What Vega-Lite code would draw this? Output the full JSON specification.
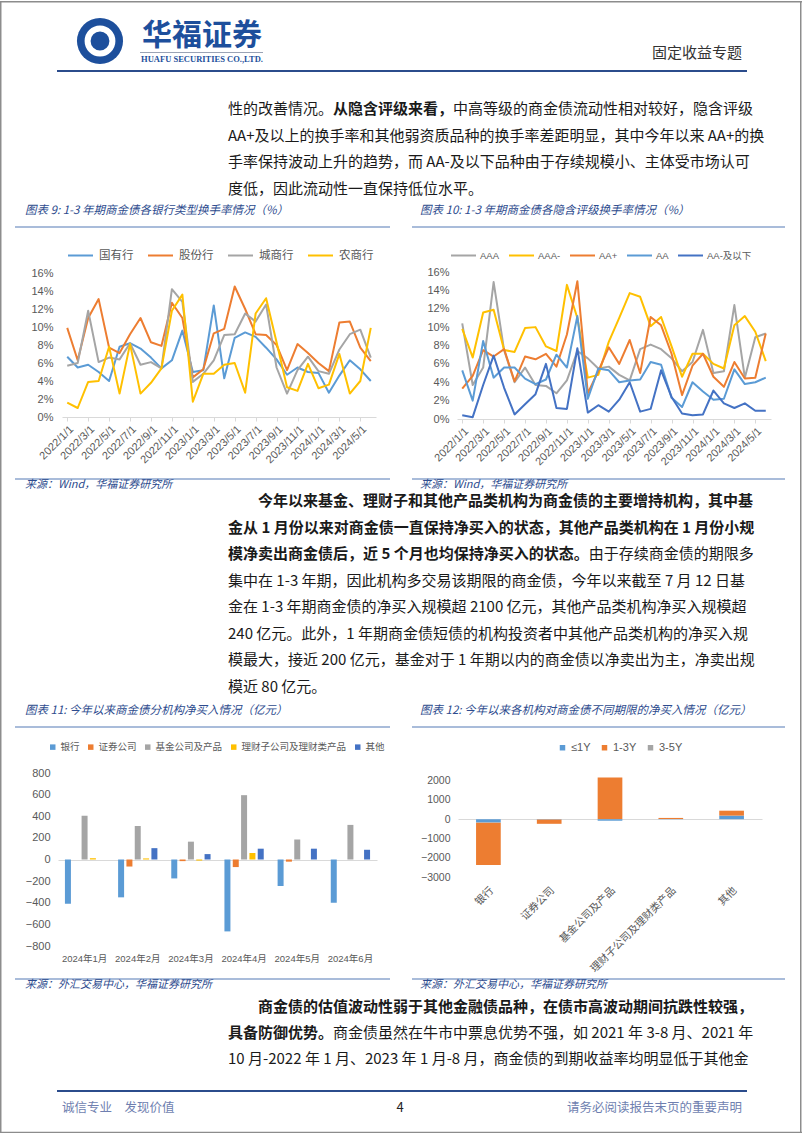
{
"$schema": "https://vega.github.io/schema/vega-lite/v6.json",
"background": "white",
"padding": 0,
"spacing": 0,
"bounds": "flush",
"config": {
 "view": {"stroke": null},
 "font": "Noto Sans CJK SC",
 "axis": {"labelFont": "Liberation Sans, Noto Sans CJK SC", "labelColor": "#595959", "labelFontSize": 11},
 "legend": {"labelFont": "Noto Sans CJK SC", "labelColor": "#595959", "labelFontSize": 11, "padding": 0}
},
"resolve": {"scale": {"x": "independent", "y": "independent", "color": "independent"}},
"vconcat": [
{
 "width": 802, "height": 95,
 "layer": [
  {"data": {"values": [{}]}, "mark": {"type": "point", "shape": "M-0.0013,-1H0.0013V1H-0.0013Z", "filled": true, "size": 1283689, "color": "#8C8C8C", "opacity": 1}, "encoding": {"x": {"value": 0.75}, "y": {"value": 566.5}}},
  {"data": {"values": [{}]}, "mark": {"type": "point", "shape": "M-0.0013,-1H0.0013V1H-0.0013Z", "filled": true, "size": 1283689, "color": "#8C8C8C", "opacity": 1}, "encoding": {"x": {"value": 800.75}, "y": {"value": 566.5}}},
  {"data": {"values": [{}]}, "mark": {"type": "point", "shape": "M-1,-0.0019H1V0.0019H-1Z", "filled": true, "size": 643204, "color": "#8C8C8C", "opacity": 1}, "encoding": {"x": {"value": 401}, "y": {"value": 0.75}}},
  {"data": {"values": [{}]}, "mark": {"type": "point", "shape": "M-1,-0.0019H1V0.0019H-1Z", "filled": true, "size": 643204, "color": "#8C8C8C", "opacity": 1}, "encoding": {"x": {"value": 401}, "y": {"value": 1131.5}}},
  {"data": {"values": [{}]}, "mark": {"type": "point", "shape": "circle", "filled": true, "size": 2124, "color": "#1D4F9C", "opacity": 1}, "encoding": {"x": {"value": 100}, "y": {"value": 40}}},
  {"data": {"values": [{}]}, "mark": {"type": "point", "shape": "circle", "filled": false, "size": 616, "stroke": "white", "strokeWidth": 6, "opacity": 1}, "encoding": {"x": {"value": 100}, "y": {"value": 40}}},
  {"data": {"values": [{}]}, "mark": {"type": "point", "shape": "diamond", "filled": true, "size": 170, "color": "#1D4F9C", "opacity": 1}, "encoding": {"x": {"value": 100}, "y": {"value": 41}}},
  {"data": {"values": [{}]}, "mark": {"type": "text", "align": "center", "baseline": "middle", "fontSize": 30, "fontWeight": "bold", "color": "#1D4F9C"}, "encoding": {"x": {"value": 202}, "y": {"value": 35}, "text": {"value": "华福证券"}}},
  {"data": {"values": [{}]}, "mark": {"type": "point", "shape": "M-1,-0.008H1V0.008H-1Z", "filled": true, "size": 15129, "color": "#9AA3B5", "opacity": 1}, "encoding": {"x": {"value": 201.5}, "y": {"value": 51.5}}},
  {"data": {"values": [{}]}, "mark": {"type": "text", "align": "center", "baseline": "middle", "fontSize": 8.5, "fontWeight": "bold", "font": "Liberation Serif", "color": "#1D4F9C"}, "encoding": {"x": {"value": 202}, "y": {"value": 58}, "text": {"value": "HUAFU SECURITIES CO.,LTD."}}},
  {"data": {"values": [{}]}, "mark": {"type": "text", "align": "right", "baseline": "middle", "fontSize": 15, "color": "#333333"}, "encoding": {"x": {"value": 742}, "y": {"value": 52}, "text": {"value": "固定收益专题"}}},
  {"data": {"values": [{}]}, "mark": {"type": "point", "shape": "M-1,-0.0029H1V0.0029H-1Z", "filled": true, "size": 476100, "color": "#2B4C8C", "opacity": 1}, "encoding": {"x": {"value": 402}, "y": {"value": 70}}}
 ]
},
{
 "width": 802, "height": 106,
 "data": {"values": [
  {"line": 1, "col": 0, "em": false, "t": "性的改善情况。"},
  {"line": 1, "col": 7, "em": true, "t": "从隐含评级来看，"},
  {"line": 1, "col": 15, "em": false, "t": "中高等级的商金债流动性相对较好，隐含评级"},
  {"line": 2, "col": 0, "em": false, "t": "AA+及以上的换手率和其他弱资质品种的换手率差距明显，其中今年以来 AA+的换"},
  {"line": 3, "col": 0, "em": false, "t": "手率保持波动上升的趋势，而 AA-及以下品种由于存续规模小、主体受市场认可"},
  {"line": 4, "col": 0, "em": false, "t": "度低，因此流动性一直保持低位水平。"}
 ]},
 "encoding": {
  "x": {"field": "col", "type": "quantitative", "scale": {"domain": [0, 34.4667], "range": [228, 745], "nice": false, "zero": false}, "axis": null},
  "y": {"field": "line", "type": "ordinal", "scale": {"type": "point", "padding": 0.5}, "axis": null},
  "text": {"field": "t"}
 },
 "layer": [
  {"transform": [{"filter": "!datum.em"}], "mark": {"type": "text", "align": "left", "baseline": "middle", "fontSize": 15, "color": "#1a1a1a"}},
  {"transform": [{"filter": "datum.em"}], "mark": {"type": "text", "align": "left", "baseline": "middle", "fontSize": 15, "fontWeight": "bold", "color": "#1a1a1a"}}
 ]
},
{
 "width": 802, "height": 286,
 "resolve": {"scale": {"x": "independent", "y": "independent", "color": "independent"}, "axis": {"x": "independent", "y": "independent"}, "legend": {"color": "independent"}},
 "layer": [
  {"data": {"values": [{}]}, "mark": {"type": "text", "align": "left", "baseline": "middle", "fontSize": 11.5, "fontStyle": "italic", "color": "#2D4B8E"}, "encoding": {"x": {"value": 25}, "y": {"value": 9}, "text": {"value": "图表 9:  1-3 年期商金债各银行类型换手率情况（%）"}}},
  {"data": {"values": [{}]}, "mark": {"type": "text", "align": "left", "baseline": "middle", "fontSize": 11.5, "fontStyle": "italic", "color": "#2D4B8E"}, "encoding": {"x": {"value": 420}, "y": {"value": 9}, "text": {"value": "图表 10:  1-3 年期商金债各隐含评级换手率情况（%）"}}},
  {"data": {"values": [{}]}, "mark": {"type": "point", "shape": "M-1,-0.0053H1V0.0053H-1Z", "filled": true, "size": 140625, "color": "#A9BCDA", "opacity": 1}, "encoding": {"x": {"value": 202.5}, "y": {"value": 25}}},
  {"data": {"values": [{}]}, "mark": {"type": "point", "shape": "M-1,-0.0054H1V0.0054H-1Z", "filled": true, "size": 139129, "color": "#A9BCDA", "opacity": 1}, "encoding": {"x": {"value": 598.5}, "y": {"value": 25}}},
  {"data": {"values": [{}]}, "mark": {"type": "point", "shape": "M-1,-0.0053H1V0.0053H-1Z", "filled": true, "size": 140625, "color": "#A9BCDA", "opacity": 1}, "encoding": {"x": {"value": 202.5}, "y": {"value": 277}}},
  {"data": {"values": [{}]}, "mark": {"type": "point", "shape": "M-1,-0.0054H1V0.0054H-1Z", "filled": true, "size": 139129, "color": "#A9BCDA", "opacity": 1}, "encoding": {"x": {"value": 598.5}, "y": {"value": 277}}},
  {"data": {"values": [{}]}, "mark": {"type": "text", "align": "left", "baseline": "middle", "fontSize": 11, "fontStyle": "italic", "color": "#2D4B8E"}, "encoding": {"x": {"value": 25}, "y": {"value": 283}, "text": {"value": "来源：Wind，华福证券研究所"}}},
  {"data": {"values": [{}]}, "mark": {"type": "text", "align": "left", "baseline": "middle", "fontSize": 11, "fontStyle": "italic", "color": "#2D4B8E"}, "encoding": {"x": {"value": 420}, "y": {"value": 283}, "text": {"value": "来源：Wind，华福证券研究所"}}},
  {
   "data": {"values": [
    {"d":"2022/1/1","s":"国有行","v":6.7},{"d":"2022/2/1","s":"国有行","v":5.5},{"d":"2022/3/1","s":"国有行","v":5.8},{"d":"2022/4/1","s":"国有行","v":5.0},{"d":"2022/5/1","s":"国有行","v":4.0},{"d":"2022/6/1","s":"国有行","v":7.8},{"d":"2022/7/1","s":"国有行","v":8.2},{"d":"2022/8/1","s":"国有行","v":7.6},{"d":"2022/9/1","s":"国有行","v":6.6},{"d":"2022/10/1","s":"国有行","v":5.4},{"d":"2022/11/1","s":"国有行","v":6.3},{"d":"2022/12/1","s":"国有行","v":9.6},{"d":"2023/1/1","s":"国有行","v":5.0},{"d":"2023/2/1","s":"国有行","v":5.2},{"d":"2023/3/1","s":"国有行","v":12.4},{"d":"2023/4/1","s":"国有行","v":4.3},{"d":"2023/5/1","s":"国有行","v":8.8},{"d":"2023/6/1","s":"国有行","v":9.4},{"d":"2023/7/1","s":"国有行","v":8.9},{"d":"2023/8/1","s":"国有行","v":7.7},{"d":"2023/9/1","s":"国有行","v":6.4},{"d":"2023/10/1","s":"国有行","v":4.7},{"d":"2023/11/1","s":"国有行","v":5.5},{"d":"2023/12/1","s":"国有行","v":5.0},{"d":"2024/1/1","s":"国有行","v":4.9},{"d":"2024/2/1","s":"国有行","v":2.7},{"d":"2024/3/1","s":"国有行","v":4.6},{"d":"2024/4/1","s":"国有行","v":6.3},{"d":"2024/5/1","s":"国有行","v":5.3},{"d":"2024/6/1","s":"国有行","v":4.0},
    {"d":"2022/1/1","s":"股份行","v":9.9},{"d":"2022/2/1","s":"股份行","v":6.3},{"d":"2022/3/1","s":"股份行","v":11.0},{"d":"2022/4/1","s":"股份行","v":13.1},{"d":"2022/5/1","s":"股份行","v":7.7},{"d":"2022/6/1","s":"股份行","v":7.1},{"d":"2022/7/1","s":"股份行","v":9.2},{"d":"2022/8/1","s":"股份行","v":11.0},{"d":"2022/9/1","s":"股份行","v":8.3},{"d":"2022/10/1","s":"股份行","v":7.9},{"d":"2022/11/1","s":"股份行","v":12.7},{"d":"2022/12/1","s":"股份行","v":11.0},{"d":"2023/1/1","s":"股份行","v":4.4},{"d":"2023/2/1","s":"股份行","v":5.3},{"d":"2023/3/1","s":"股份行","v":9.3},{"d":"2023/4/1","s":"股份行","v":9.8},{"d":"2023/5/1","s":"股份行","v":14.5},{"d":"2023/6/1","s":"股份行","v":12.0},{"d":"2023/7/1","s":"股份行","v":9.2},{"d":"2023/8/1","s":"股份行","v":9.1},{"d":"2023/9/1","s":"股份行","v":8.0},{"d":"2023/10/1","s":"股份行","v":5.2},{"d":"2023/11/1","s":"股份行","v":8.1},{"d":"2023/12/1","s":"股份行","v":7.1},{"d":"2024/1/1","s":"股份行","v":6.0},{"d":"2024/2/1","s":"股份行","v":5.1},{"d":"2024/3/1","s":"股份行","v":10.5},{"d":"2024/4/1","s":"股份行","v":10.6},{"d":"2024/5/1","s":"股份行","v":7.7},{"d":"2024/6/1","s":"股份行","v":6.2},
    {"d":"2022/1/1","s":"城商行","v":5.7},{"d":"2022/2/1","s":"城商行","v":6.0},{"d":"2022/3/1","s":"城商行","v":11.8},{"d":"2022/4/1","s":"城商行","v":6.1},{"d":"2022/5/1","s":"城商行","v":6.6},{"d":"2022/6/1","s":"城商行","v":6.4},{"d":"2022/7/1","s":"城商行","v":8.2},{"d":"2022/8/1","s":"城商行","v":5.8},{"d":"2022/9/1","s":"城商行","v":6.1},{"d":"2022/10/1","s":"城商行","v":5.4},{"d":"2022/11/1","s":"城商行","v":14.2},{"d":"2022/12/1","s":"城商行","v":12.8},{"d":"2023/1/1","s":"城商行","v":3.9},{"d":"2023/2/1","s":"城商行","v":4.8},{"d":"2023/3/1","s":"城商行","v":6.3},{"d":"2023/4/1","s":"城商行","v":9.1},{"d":"2023/5/1","s":"城商行","v":9.2},{"d":"2023/6/1","s":"城商行","v":11.5},{"d":"2023/7/1","s":"城商行","v":10.6},{"d":"2023/8/1","s":"城商行","v":12.5},{"d":"2023/9/1","s":"城商行","v":5.5},{"d":"2023/10/1","s":"城商行","v":2.6},{"d":"2023/11/1","s":"城商行","v":5.2},{"d":"2023/12/1","s":"城商行","v":6.7},{"d":"2024/1/1","s":"城商行","v":5.1},{"d":"2024/2/1","s":"城商行","v":4.8},{"d":"2024/3/1","s":"城商行","v":7.5},{"d":"2024/4/1","s":"城商行","v":9.2},{"d":"2024/5/1","s":"城商行","v":9.7},{"d":"2024/6/1","s":"城商行","v":6.6},
    {"d":"2022/1/1","s":"农商行","v":1.6},{"d":"2022/2/1","s":"农商行","v":1.0},{"d":"2022/3/1","s":"农商行","v":3.9},{"d":"2022/4/1","s":"农商行","v":4.0},{"d":"2022/5/1","s":"农商行","v":7.8},{"d":"2022/6/1","s":"农商行","v":2.6},{"d":"2022/7/1","s":"农商行","v":8.1},{"d":"2022/8/1","s":"农商行","v":2.6},{"d":"2022/9/1","s":"农商行","v":3.8},{"d":"2022/10/1","s":"农商行","v":5.4},{"d":"2022/11/1","s":"农商行","v":11.8},{"d":"2022/12/1","s":"农商行","v":13.6},{"d":"2023/1/1","s":"农商行","v":1.7},{"d":"2023/2/1","s":"农商行","v":4.8},{"d":"2023/3/1","s":"农商行","v":4.8},{"d":"2023/4/1","s":"农商行","v":5.8},{"d":"2023/5/1","s":"农商行","v":6.0},{"d":"2023/6/1","s":"农商行","v":2.7},{"d":"2023/7/1","s":"农商行","v":11.5},{"d":"2023/8/1","s":"农商行","v":13.2},{"d":"2023/9/1","s":"农商行","v":8.3},{"d":"2023/10/1","s":"农商行","v":3.3},{"d":"2023/11/1","s":"农商行","v":2.9},{"d":"2023/12/1","s":"农商行","v":5.9},{"d":"2024/1/1","s":"农商行","v":3.2},{"d":"2024/2/1","s":"农商行","v":3.6},{"d":"2024/3/1","s":"农商行","v":7.0},{"d":"2024/4/1","s":"农商行","v":2.6},{"d":"2024/5/1","s":"农商行","v":4.0},{"d":"2024/6/1","s":"农商行","v":9.9}
   ]},
   "mark": {"type": "line", "strokeWidth": 2, "strokeJoin": "round"},
   "encoding": {
    "x": {"field": "d", "type": "ordinal", "sort": null, "scale": {"type": "point", "padding": 0.5, "range": [62, 376]},
          "axis": {"orient": "bottom", "offset": -71, "title": null, "values": ["2022/1/1","2022/3/1","2022/5/1","2022/7/1","2022/9/1","2022/11/1","2023/1/1","2023/3/1","2023/5/1","2023/7/1","2023/9/1","2023/11/1","2024/1/1","2024/3/1","2024/5/1"], "labelAngle": -45, "domainColor": "#D9D9D9", "tickColor": "#D9D9D9", "tickSize": 4, "labelPadding": 2}},
    "y": {"field": "v", "type": "quantitative", "scale": {"domain": [0, 16], "nice": false, "range": [215, 71]},
          "axis": {"orient": "left", "offset": -62, "title": null, "values": [0,2,4,6,8,10,12,14,16], "labelExpr": "datum.value + '%'", "domain": false, "ticks": false, "grid": false, "labelPadding": 9}},
    "color": {"field": "s", "type": "nominal", "scale": {"domain": ["国有行","股份行","城商行","农商行"], "range": ["#5B9BD5","#ED7D31","#A5A5A5","#FFC000"]},
          "legend": {"orient": "none", "legendX": 67, "legendY": 40, "direction": "horizontal", "title": null, "symbolType": "stroke", "symbolSize": 625, "symbolStrokeWidth": 2, "labelFontSize": 11.5, "columnPadding": 10, "labelOffset": 5}}
   }
  },
  {
   "data": {"values": [
    {"d":"2022/1/1","s":"AAA","v":10.4},{"d":"2022/2/1","s":"AAA","v":3.7},{"d":"2022/3/1","s":"AAA","v":5.6},{"d":"2022/4/1","s":"AAA","v":14.9},{"d":"2022/5/1","s":"AAA","v":7.5},{"d":"2022/6/1","s":"AAA","v":4.0},{"d":"2022/7/1","s":"AAA","v":5.6},{"d":"2022/8/1","s":"AAA","v":3.7},{"d":"2022/9/1","s":"AAA","v":3.6},{"d":"2022/10/1","s":"AAA","v":2.8},{"d":"2022/11/1","s":"AAA","v":4.2},{"d":"2022/12/1","s":"AAA","v":7.4},{"d":"2023/1/1","s":"AAA","v":6.6},{"d":"2023/2/1","s":"AAA","v":5.5},{"d":"2023/3/1","s":"AAA","v":5.7},{"d":"2023/4/1","s":"AAA","v":4.8},{"d":"2023/5/1","s":"AAA","v":4.2},{"d":"2023/6/1","s":"AAA","v":7.6},{"d":"2023/7/1","s":"AAA","v":8.1},{"d":"2023/8/1","s":"AAA","v":7.6},{"d":"2023/9/1","s":"AAA","v":6.6},{"d":"2023/10/1","s":"AAA","v":5.2},{"d":"2023/11/1","s":"AAA","v":6.2},{"d":"2023/12/1","s":"AAA","v":9.7},{"d":"2024/1/1","s":"AAA","v":5.0},{"d":"2024/2/1","s":"AAA","v":5.2},{"d":"2024/3/1","s":"AAA","v":12.4},{"d":"2024/4/1","s":"AAA","v":4.5},{"d":"2024/5/1","s":"AAA","v":8.9},{"d":"2024/6/1","s":"AAA","v":9.3},
    {"d":"2022/1/1","s":"AAA-","v":9.8},{"d":"2022/2/1","s":"AAA-","v":6.7},{"d":"2022/3/1","s":"AAA-","v":11.6},{"d":"2022/4/1","s":"AAA-","v":11.9},{"d":"2022/5/1","s":"AAA-","v":7.5},{"d":"2022/6/1","s":"AAA-","v":7.3},{"d":"2022/7/1","s":"AAA-","v":9.9},{"d":"2022/8/1","s":"AAA-","v":10.0},{"d":"2022/9/1","s":"AAA-","v":7.9},{"d":"2022/10/1","s":"AAA-","v":7.4},{"d":"2022/11/1","s":"AAA-","v":14.6},{"d":"2022/12/1","s":"AAA-","v":11.0},{"d":"2023/1/1","s":"AAA-","v":4.5},{"d":"2023/2/1","s":"AAA-","v":4.8},{"d":"2023/3/1","s":"AAA-","v":8.4},{"d":"2023/4/1","s":"AAA-","v":11.0},{"d":"2023/5/1","s":"AAA-","v":13.7},{"d":"2023/6/1","s":"AAA-","v":13.3},{"d":"2023/7/1","s":"AAA-","v":10.1},{"d":"2023/8/1","s":"AAA-","v":11.1},{"d":"2023/9/1","s":"AAA-","v":7.9},{"d":"2023/10/1","s":"AAA-","v":4.6},{"d":"2023/11/1","s":"AAA-","v":7.1},{"d":"2023/12/1","s":"AAA-","v":7.1},{"d":"2024/1/1","s":"AAA-","v":6.0},{"d":"2024/2/1","s":"AAA-","v":5.5},{"d":"2024/3/1","s":"AAA-","v":10.2},{"d":"2024/4/1","s":"AAA-","v":11.2},{"d":"2024/5/1","s":"AAA-","v":9.5},{"d":"2024/6/1","s":"AAA-","v":6.3},
    {"d":"2022/1/1","s":"AA+","v":3.3},{"d":"2022/2/1","s":"AA+","v":4.7},{"d":"2022/3/1","s":"AA+","v":7.5},{"d":"2022/4/1","s":"AA+","v":6.8},{"d":"2022/5/1","s":"AA+","v":7.6},{"d":"2022/6/1","s":"AA+","v":4.1},{"d":"2022/7/1","s":"AA+","v":6.8},{"d":"2022/8/1","s":"AA+","v":6.5},{"d":"2022/9/1","s":"AA+","v":7.1},{"d":"2022/10/1","s":"AA+","v":5.7},{"d":"2022/11/1","s":"AA+","v":9.2},{"d":"2022/12/1","s":"AA+","v":15.0},{"d":"2023/1/1","s":"AA+","v":2.8},{"d":"2023/2/1","s":"AA+","v":5.2},{"d":"2023/3/1","s":"AA+","v":7.8},{"d":"2023/4/1","s":"AA+","v":6.0},{"d":"2023/5/1","s":"AA+","v":8.6},{"d":"2023/6/1","s":"AA+","v":5.0},{"d":"2023/7/1","s":"AA+","v":11.1},{"d":"2023/8/1","s":"AA+","v":10.2},{"d":"2023/9/1","s":"AA+","v":7.1},{"d":"2023/10/1","s":"AA+","v":2.6},{"d":"2023/11/1","s":"AA+","v":5.8},{"d":"2023/12/1","s":"AA+","v":7.1},{"d":"2024/1/1","s":"AA+","v":4.6},{"d":"2024/2/1","s":"AA+","v":3.5},{"d":"2024/3/1","s":"AA+","v":6.2},{"d":"2024/4/1","s":"AA+","v":4.4},{"d":"2024/5/1","s":"AA+","v":4.5},{"d":"2024/6/1","s":"AA+","v":9.3},
    {"d":"2022/1/1","s":"AA","v":5.3},{"d":"2022/2/1","s":"AA","v":2.0},{"d":"2022/3/1","s":"AA","v":8.5},{"d":"2022/4/1","s":"AA","v":4.5},{"d":"2022/5/1","s":"AA","v":5.6},{"d":"2022/6/1","s":"AA","v":5.6},{"d":"2022/7/1","s":"AA","v":4.4},{"d":"2022/8/1","s":"AA","v":3.8},{"d":"2022/9/1","s":"AA","v":4.3},{"d":"2022/10/1","s":"AA","v":7.0},{"d":"2022/11/1","s":"AA","v":5.6},{"d":"2022/12/1","s":"AA","v":11.2},{"d":"2023/1/1","s":"AA","v":2.2},{"d":"2023/2/1","s":"AA","v":5.5},{"d":"2023/3/1","s":"AA","v":5.3},{"d":"2023/4/1","s":"AA","v":4.0},{"d":"2023/5/1","s":"AA","v":4.2},{"d":"2023/6/1","s":"AA","v":4.3},{"d":"2023/7/1","s":"AA","v":6.2},{"d":"2023/8/1","s":"AA","v":5.9},{"d":"2023/9/1","s":"AA","v":2.3},{"d":"2023/10/1","s":"AA","v":1.3},{"d":"2023/11/1","s":"AA","v":4.0},{"d":"2023/12/1","s":"AA","v":3.0},{"d":"2024/1/1","s":"AA","v":2.1},{"d":"2024/2/1","s":"AA","v":2.2},{"d":"2024/3/1","s":"AA","v":5.4},{"d":"2024/4/1","s":"AA","v":3.8},{"d":"2024/5/1","s":"AA","v":4.0},{"d":"2024/6/1","s":"AA","v":4.5},
    {"d":"2022/1/1","s":"AA-及以下","v":0.4},{"d":"2022/2/1","s":"AA-及以下","v":0.2},{"d":"2022/3/1","s":"AA-及以下","v":3.7},{"d":"2022/4/1","s":"AA-及以下","v":6.9},{"d":"2022/5/1","s":"AA-及以下","v":3.4},{"d":"2022/6/1","s":"AA-及以下","v":0.5},{"d":"2022/7/1","s":"AA-及以下","v":1.6},{"d":"2022/8/1","s":"AA-及以下","v":2.7},{"d":"2022/9/1","s":"AA-及以下","v":6.0},{"d":"2022/10/1","s":"AA-及以下","v":1.2},{"d":"2022/11/1","s":"AA-及以下","v":1.1},{"d":"2022/12/1","s":"AA-及以下","v":7.7},{"d":"2023/1/1","s":"AA-及以下","v":0.7},{"d":"2023/2/1","s":"AA-及以下","v":1.5},{"d":"2023/3/1","s":"AA-及以下","v":0.8},{"d":"2023/4/1","s":"AA-及以下","v":2.1},{"d":"2023/5/1","s":"AA-及以下","v":4.0},{"d":"2023/6/1","s":"AA-及以下","v":0.8},{"d":"2023/7/1","s":"AA-及以下","v":1.1},{"d":"2023/8/1","s":"AA-及以下","v":5.3},{"d":"2023/9/1","s":"AA-及以下","v":2.4},{"d":"2023/10/1","s":"AA-及以下","v":0.6},{"d":"2023/11/1","s":"AA-及以下","v":0.4},{"d":"2023/12/1","s":"AA-及以下","v":0.5},{"d":"2024/1/1","s":"AA-及以下","v":3.1},{"d":"2024/2/1","s":"AA-及以下","v":1.7},{"d":"2024/3/1","s":"AA-及以下","v":1.2},{"d":"2024/4/1","s":"AA-及以下","v":1.7},{"d":"2024/5/1","s":"AA-及以下","v":0.9},{"d":"2024/6/1","s":"AA-及以下","v":0.9}
   ]},
   "mark": {"type": "line", "strokeWidth": 2, "strokeJoin": "round"},
   "encoding": {
    "x": {"field": "d", "type": "ordinal", "sort": null, "scale": {"type": "point", "padding": 0.5, "range": [457, 771]},
          "axis": {"orient": "bottom", "offset": -69, "title": null, "values": ["2022/1/1","2022/3/1","2022/5/1","2022/7/1","2022/9/1","2022/11/1","2023/1/1","2023/3/1","2023/5/1","2023/7/1","2023/9/1","2023/11/1","2024/1/1","2024/3/1","2024/5/1"], "labelAngle": -45, "domainColor": "#D9D9D9", "tickColor": "#D9D9D9", "tickSize": 4, "labelPadding": 2}},
    "y": {"field": "v", "type": "quantitative", "scale": {"domain": [0, 16], "nice": false, "range": [217, 70]},
          "axis": {"orient": "left", "offset": -457, "title": null, "values": [0,2,4,6,8,10,12,14,16], "labelExpr": "datum.value + '%'", "domain": false, "ticks": false, "grid": false, "labelPadding": 8}},
    "color": {"field": "s", "type": "nominal", "scale": {"domain": ["AAA","AAA-","AA+","AA","AA-及以下"], "range": ["#A5A5A5","#FFC000","#ED7D31","#5B9BD5","#4472C4"]},
          "legend": {"orient": "none", "legendX": 450, "legendY": 40, "direction": "horizontal", "title": null, "symbolType": "stroke", "symbolSize": 625, "symbolStrokeWidth": 2, "labelFont": "Liberation Sans, Noto Sans CJK SC", "labelFontSize": 9.5, "columnPadding": 5, "labelOffset": 3}}
   }
  }
 ]
},
{
 "width": 802, "height": 212,
 "data": {"values": [
  {"line": 1, "col": 2, "em": true, "t": "今年以来基金、理财子和其他产品类机构为商金债的主要增持机构，其中基"},
  {"line": 2, "col": 0, "em": true, "t": "金从 1 月份以来对商金债一直保持净买入的状态，其他产品类机构在 1 月份小规"},
  {"line": 3, "col": 0, "em": true, "t": "模净卖出商金债后，近 5 个月也均保持净买入的状态。"},
  {"line": 3, "col": 24.05, "em": false, "t": "由于存续商金债的期限多"},
  {"line": 4, "col": 0, "em": false, "t": "集中在 1-3 年期，因此机构多交易该期限的商金债，今年以来截至 7 月 12 日基"},
  {"line": 5, "col": 0, "em": false, "t": "金在 1-3 年期商金债的净买入规模超 2100 亿元，其他产品类机构净买入规模超"},
  {"line": 6, "col": 0, "em": false, "t": "240 亿元。此外，1 年期商金债短债的机构投资者中其他产品类机构的净买入规"},
  {"line": 7, "col": 0, "em": false, "t": "模最大，接近 200 亿元，基金对于 1 年期以内的商金债以净卖出为主，净卖出规"},
  {"line": 8, "col": 0, "em": false, "t": "模近 80 亿元。"}
 ]},
 "encoding": {
  "x": {"field": "col", "type": "quantitative", "scale": {"domain": [0, 34.4667], "range": [228, 745], "nice": false, "zero": false}, "axis": null},
  "y": {"field": "line", "type": "ordinal", "scale": {"type": "point", "padding": 0.5}, "axis": null},
  "text": {"field": "t"}
 },
 "layer": [
  {"transform": [{"filter": "!datum.em"}], "mark": {"type": "text", "align": "left", "baseline": "middle", "fontSize": 15, "color": "#1a1a1a"}},
  {"transform": [{"filter": "datum.em"}], "mark": {"type": "text", "align": "left", "baseline": "middle", "fontSize": 15, "fontWeight": "bold", "color": "#1a1a1a"}}
 ]
},
{
 "width": 802, "height": 294,
 "resolve": {"scale": {"x": "independent", "y": "independent", "color": "independent"}, "axis": {"x": "independent", "y": "independent"}, "legend": {"color": "independent"}},
 "layer": [
  {"data": {"values": [{}]}, "mark": {"type": "text", "align": "left", "baseline": "middle", "fontSize": 11.5, "fontStyle": "italic", "color": "#2D4B8E"}, "encoding": {"x": {"value": 25}, "y": {"value": 11}, "text": {"value": "图表 11:  今年以来商金债分机构净买入情况（亿元）"}}},
  {"data": {"values": [{}]}, "mark": {"type": "text", "align": "left", "baseline": "middle", "fontSize": 11.5, "fontStyle": "italic", "color": "#2D4B8E"}, "encoding": {"x": {"value": 420}, "y": {"value": 11}, "text": {"value": "图表 12:  今年以来各机构对商金债不同期限的净买入情况（亿元）"}}},
  {"data": {"values": [{}]}, "mark": {"type": "point", "shape": "M-1,-0.0053H1V0.0053H-1Z", "filled": true, "size": 140625, "color": "#A9BCDA", "opacity": 1}, "encoding": {"x": {"value": 202.5}, "y": {"value": 27}}},
  {"data": {"values": [{}]}, "mark": {"type": "point", "shape": "M-1,-0.0054H1V0.0054H-1Z", "filled": true, "size": 139129, "color": "#A9BCDA", "opacity": 1}, "encoding": {"x": {"value": 598.5}, "y": {"value": 27}}},
  {"data": {"values": [{}]}, "mark": {"type": "point", "shape": "M-1,-0.0053H1V0.0053H-1Z", "filled": true, "size": 140625, "color": "#A9BCDA", "opacity": 1}, "encoding": {"x": {"value": 202.5}, "y": {"value": 279}}},
  {"data": {"values": [{}]}, "mark": {"type": "point", "shape": "M-1,-0.0054H1V0.0054H-1Z", "filled": true, "size": 139129, "color": "#A9BCDA", "opacity": 1}, "encoding": {"x": {"value": 598.5}, "y": {"value": 279}}},
  {"data": {"values": [{}]}, "mark": {"type": "text", "align": "left", "baseline": "middle", "fontSize": 11, "fontStyle": "italic", "color": "#2D4B8E"}, "encoding": {"x": {"value": 25}, "y": {"value": 285}, "text": {"value": "来源：外汇交易中心，华福证券研究所"}}},
  {"data": {"values": [{}]}, "mark": {"type": "text", "align": "left", "baseline": "middle", "fontSize": 11, "fontStyle": "italic", "color": "#2D4B8E"}, "encoding": {"x": {"value": 420}, "y": {"value": 285}, "text": {"value": "来源：外汇交易中心，华福证券研究所"}}},
  {
   "data": {"values": [
    {"m":"2024年1月","s":"银行","v":-410},{"m":"2024年1月","s":"证券公司","v":0},{"m":"2024年1月","s":"基金公司及产品","v":405},{"m":"2024年1月","s":"理财子公司及理财类产品","v":12},{"m":"2024年1月","s":"其他","v":0},
    {"m":"2024年2月","s":"银行","v":-350},{"m":"2024年2月","s":"证券公司","v":-65},{"m":"2024年2月","s":"基金公司及产品","v":310},{"m":"2024年2月","s":"理财子公司及理财类产品","v":10},{"m":"2024年2月","s":"其他","v":105},
    {"m":"2024年3月","s":"银行","v":-175},{"m":"2024年3月","s":"证券公司","v":-15},{"m":"2024年3月","s":"基金公司及产品","v":165},{"m":"2024年3月","s":"理财子公司及理财类产品","v":-10},{"m":"2024年3月","s":"其他","v":50},
    {"m":"2024年4月","s":"银行","v":-665},{"m":"2024年4月","s":"证券公司","v":-70},{"m":"2024年4月","s":"基金公司及产品","v":595},{"m":"2024年4月","s":"理财子公司及理财类产品","v":60},{"m":"2024年4月","s":"其他","v":100},
    {"m":"2024年5月","s":"银行","v":-245},{"m":"2024年5月","s":"证券公司","v":-20},{"m":"2024年5月","s":"基金公司及产品","v":185},{"m":"2024年5月","s":"理财子公司及理财类产品","v":0},{"m":"2024年5月","s":"其他","v":100},
    {"m":"2024年6月","s":"银行","v":-400},{"m":"2024年6月","s":"证券公司","v":0},{"m":"2024年6月","s":"基金公司及产品","v":320},{"m":"2024年6月","s":"理财子公司及理财类产品","v":0},{"m":"2024年6月","s":"其他","v":90}
   ]},
   "mark": {"type": "bar"},
   "encoding": {
    "x": {"field": "m", "type": "nominal", "sort": null, "scale": {"range": [58, 377], "paddingInner": 0.217, "paddingOuter": 0.1085},
          "axis": {"orient": "bottom", "offset": -48, "title": null, "labelAngle": 0, "domain": false, "ticks": false, "labelPadding": 7, "labelFontSize": 9.5}},
    "xOffset": {"field": "s", "type": "nominal", "scale": {"domain": ["银行","证券公司","基金公司及产品","理财子公司及理财类产品","其他"], "paddingInner": 0.28, "paddingOuter": 0.14}},
    "y": {"field": "v", "type": "quantitative", "scale": {"domain": [-800, 800], "nice": false, "range": [246, 73]},
          "axis": {"orient": "left", "offset": -58, "title": null, "values": [-800,-600,-400,-200,0,200,400,600,800], "format": "d", "domain": false, "ticks": false, "grid": true, "gridColor": "#D9D9D9", "gridOpacity": {"condition": {"test": "datum.value === 0", "value": 1}, "value": 0}, "labelPadding": 8}},
    "color": {"field": "s", "type": "nominal", "scale": {"domain": ["银行","证券公司","基金公司及产品","理财子公司及理财类产品","其他"], "range": ["#5B9BD5","#ED7D31","#A5A5A5","#FFC000","#4472C4"]},
          "legend": {"orient": "none", "legendX": 48, "legendY": 42, "direction": "horizontal", "title": null, "symbolType": "square", "symbolSize": 30, "labelFontSize": 9.5, "columnPadding": 6, "labelOffset": 3}}
   }
  },
  {
   "data": {"values": [
    {"c":"银行","s":"≤1Y","v":-170},{"c":"银行","s":"1-3Y","v":-2200},{"c":"银行","s":"3-5Y","v":-10},
    {"c":"证券公司","s":"≤1Y","v":-20},{"c":"证券公司","s":"1-3Y","v":-220},{"c":"证券公司","s":"3-5Y","v":0},
    {"c":"基金公司及产品","s":"≤1Y","v":-80},{"c":"基金公司及产品","s":"1-3Y","v":2150},{"c":"基金公司及产品","s":"3-5Y","v":10},
    {"c":"理财子公司及理财类产品","s":"≤1Y","v":10},{"c":"理财子公司及理财类产品","s":"1-3Y","v":55},{"c":"理财子公司及理财类产品","s":"3-5Y","v":0},
    {"c":"其他","s":"≤1Y","v":185},{"c":"其他","s":"1-3Y","v":255},{"c":"其他","s":"3-5Y","v":0}
   ]},
   "mark": {"type": "bar"},
   "encoding": {
    "x": {"field": "c", "type": "nominal", "sort": null, "scale": {"range": [458, 762], "paddingInner": 0.594, "paddingOuter": 0.297},
          "axis": {"orient": "bottom", "offset": -117, "title": null, "labelAngle": -45, "domain": false, "ticks": false, "labelPadding": 8, "labelFontSize": 10.5}},
    "y": {"field": "v", "type": "quantitative", "stack": "zero", "scale": {"domain": [-3000, 2500], "nice": false, "range": [177, 71]},
          "axis": {"orient": "left", "offset": -458, "title": null, "values": [-3000,-2500,-2000,-1500,-1000,-500,0,500,1000,1500,2000,2500], "format": "d", "domain": false, "ticks": false, "grid": true, "gridColor": "#D9D9D9", "gridOpacity": {"condition": {"test": "datum.value === 0", "value": 1}, "value": 0}, "labelPadding": 8, "labelFontSize": 10.5}},
    "color": {"field": "s", "type": "nominal", "scale": {"domain": ["≤1Y","1-3Y","3-5Y"], "range": ["#5B9BD5","#ED7D31","#A5A5A5"]},
          "legend": {"orient": "none", "legendX": 557, "legendY": 42, "direction": "horizontal", "title": null, "symbolType": "square", "symbolSize": 30, "labelFont": "Liberation Sans, Noto Sans CJK SC", "labelFontSize": 11, "columnPadding": 8, "labelOffset": 3}},
    "order": {"field": "s", "sort": "descending"}
   }
  }
 ]
},
{
 "width": 802, "height": 78,
 "data": {"values": [
  {"line": 1, "col": 2, "em": true, "t": "商金债的估值波动性弱于其他金融债品种，在债市高波动期间抗跌性较强，"},
  {"line": 2, "col": 0, "em": true, "t": "具备防御优势。"},
  {"line": 2, "col": 7, "em": false, "t": "商金债虽然在牛市中票息优势不强，如 2021 年 3-8 月、2021 年"},
  {"line": 3, "col": 0, "em": false, "t": "10 月-2022 年 1 月、2023 年 1 月-8 月，商金债的到期收益率均明显低于其他金"}
 ]},
 "encoding": {
  "x": {"field": "col", "type": "quantitative", "scale": {"domain": [0, 34.4667], "range": [228, 745], "nice": false, "zero": false}, "axis": null},
  "y": {"field": "line", "type": "ordinal", "scale": {"type": "point", "padding": 0.5}, "axis": null},
  "text": {"field": "t"}
 },
 "layer": [
  {"transform": [{"filter": "!datum.em"}], "mark": {"type": "text", "align": "left", "baseline": "middle", "fontSize": 15, "color": "#1a1a1a"}},
  {"transform": [{"filter": "datum.em"}], "mark": {"type": "text", "align": "left", "baseline": "middle", "fontSize": 15, "fontWeight": "bold", "color": "#1a1a1a"}}
 ]
},
{
 "width": 802, "height": 62,
 "layer": [
  {"data": {"values": [{}]}, "mark": {"type": "point", "shape": "M-1,-0.0029H1V0.0029H-1Z", "filled": true, "size": 476100, "color": "#2B4C8C", "opacity": 1}, "encoding": {"x": {"value": 402}, "y": {"value": 19}}},
  {"data": {"values": [{}]}, "mark": {"type": "text", "align": "left", "baseline": "middle", "fontSize": 12.5, "color": "#6F7FB0"}, "encoding": {"x": {"value": 62}, "y": {"value": 36}, "text": {"value": "诚信专业　发现价值"}}},
  {"data": {"values": [{}]}, "mark": {"type": "text", "align": "center", "baseline": "middle", "fontSize": 13, "color": "#222222"}, "encoding": {"x": {"value": 400}, "y": {"value": 36}, "text": {"value": "4"}}},
  {"data": {"values": [{}]}, "mark": {"type": "text", "align": "right", "baseline": "middle", "fontSize": 12.5, "color": "#6F7FB0"}, "encoding": {"x": {"value": 742}, "y": {"value": 36}, "text": {"value": "请务必阅读报告末页的重要声明"}}}
 ]
}
]
}
